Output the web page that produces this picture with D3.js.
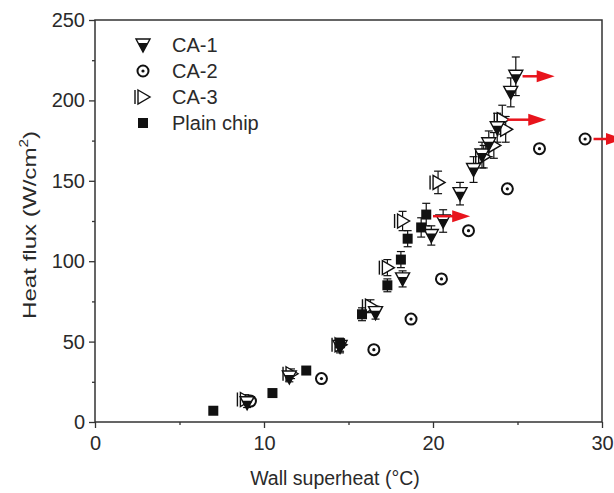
<!doctype html>
<html>
<head>
<meta charset="utf-8"/>
<title>Heat flux vs wall superheat</title>
<style>
body{margin:0;background:#fff;}
text{font-family:"Liberation Sans",Arial,sans-serif;fill:#2a2a2a;}
</style>
<script src="https://d3js.org/d3.v7.min.js"></script>
</head>
<body>
<script>
// data
var seriesNames = ["CA-1", "CA-2", "CA-3", "Plain chip"];

var ca1X = [9.0, 11.5, 14.5, 16.6, 18.2, 19.9, 20.6, 21.6, 22.4, 22.9, 23.3, 23.8, 24.6, 24.9];
var ca1Y = [12, 28, 47, 68, 89, 116, 125, 142, 157, 166, 173, 183, 205, 215];
var ca1E = [3, 3, 4, 4, 5, 6, 7, 7, 8, 8, 8, 9, 9, 12];

var ca2X = [9.2, 13.4, 16.5, 18.7, 20.5, 22.1, 24.4, 26.3, 29.0];
var ca2Y = [13, 27, 45, 64, 89, 119, 145, 170, 176];

var ca3X = [8.9, 11.6, 14.5, 16.3, 17.3, 18.2, 20.3, 23.0, 23.6, 24.3, 24.1];
var ca3Y = [14, 30, 48, 72, 96, 125, 149, 165, 172, 182, 188];
var ca3E = [3, 3, 4, 4, 5, 6, 7, 7, 8, 8, 9];

var plainX = [7.0, 10.5, 12.5, 14.5, 15.8, 17.3, 18.1, 18.5, 19.3, 19.6];
var plainY = [7, 18, 32, 49, 67, 85, 101, 114, 121, 129];
var plainE = [1, 2, 2, 3, 4, 4, 5, 5, 6, 7];

// CHF arrows: start x, end x, y
var arrowX0 = [25.3, 24.4, 20.0, 29.5];
var arrowX1 = [27.2, 26.7, 22.2, 31.3];
var arrowY = [215, 188, 128, 176];

var xTicks = [0, 10, 20, 30];
var yTicks = [0, 50, 100, 150, 200, 250];

var W = 614, H = 493;
var svg = d3.select("body").append("svg").attr("width", W).attr("height", H);

var x = d3.scaleLinear().domain([0, 30]).range([95, 602]);
var y = d3.scaleLinear().domain([0, 250]).range([422, 20]);

var axisColor = "#333";

// axes
var xAxis = d3.axisBottom(x).tickValues(xTicks).tickSize(6).tickPadding(8).tickFormat(d3.format("d"));
var xMinor = d3.axisBottom(x).tickValues([5, 15, 25]).tickSize(3).tickFormat("");
var yAxis = d3.axisLeft(y).tickValues(yTicks).tickSize(6).tickPadding(4).tickFormat(d3.format("d"));
var yMinor = d3.axisLeft(y).tickValues([25, 75, 125, 175, 225]).tickSize(3).tickFormat("");

function styleAxis(g){
  g.select(".domain").remove();
  g.selectAll("line").attr("stroke", axisColor).attr("stroke-width", 1.3);
  g.selectAll("text").attr("font-size", 20).attr("fill", "#2a2a2a");
}

svg.append("g").attr("transform", "translate(0,422)").call(xAxis).call(styleAxis);
svg.append("g").attr("transform", "translate(0,422)").call(xMinor).call(styleAxis);
svg.append("g").attr("transform", "translate(95,0)").call(yAxis).call(styleAxis);
svg.append("g").attr("transform", "translate(95,0)").call(yMinor).call(styleAxis);

svg.append("rect")
  .attr("x", x(0)).attr("y", y(250))
  .attr("width", x(30) - x(0)).attr("height", y(0) - y(250))
  .attr("fill", "none").attr("stroke", axisColor).attr("stroke-width", 1.5);

// axis titles
svg.append("text").attr("x", 335).attr("y", 485)
  .attr("text-anchor", "middle").attr("font-size", 19.5).text("Wall superheat (°C)");

var yt = svg.append("text").attr("transform", "translate(36,225) rotate(-90)")
  .attr("text-anchor", "middle").attr("font-size", 19)
  .attr("textLength", 188).attr("lengthAdjust", "spacingAndGlyphs");
yt.append("tspan").text("Heat flux (W/cm");
yt.append("tspan").attr("font-size", 12).attr("dy", -8).text("2");
yt.append("tspan").attr("dy", 8).text(")");

var plot = svg.append("g");

// error bars
function errorBars(xs, ys, es){
  var g = plot.append("g").attr("stroke", "#111").attr("stroke-width", 1.2);
  xs.forEach(function(d, i){
    var px = x(d), top = y(ys[i] + es[i]), bot = y(ys[i] - es[i]);
    g.append("line").attr("x1", px).attr("x2", px).attr("y1", top).attr("y2", bot);
    g.append("line").attr("x1", px - 4).attr("x2", px + 4).attr("y1", top).attr("y2", top);
    g.append("line").attr("x1", px - 4).attr("x2", px + 4).attr("y1", bot).attr("y2", bot);
  });
}
errorBars(plainX, plainY, plainE);
errorBars(ca3X, ca3Y, ca3E);
errorBars(ca1X, ca1Y, ca1E);

// marker shapes
function drawCA1(g, px, py){
  g.append("path").attr("d", "M" + (px - 7) + "," + (py - 6) + "L" + (px + 7) + "," + (py - 6) + "L" + px + "," + (py + 7) + "Z")
    .attr("fill", "#fff").attr("stroke", "#111").attr("stroke-width", 1.4);
  g.append("path").attr("d", "M" + (px - 5) + "," + (py - 2) + "L" + (px + 5) + "," + (py - 2) + "L" + px + "," + (py + 7) + "Z")
    .attr("fill", "#111");
}
function drawCA2(g, px, py){
  g.append("circle").attr("cx", px).attr("cy", py).attr("r", 5.5)
    .attr("fill", "#fff").attr("stroke", "#111").attr("stroke-width", 2);
  g.append("circle").attr("cx", px).attr("cy", py).attr("r", 1.6).attr("fill", "#111");
}
function drawCA3(g, px, py){
  g.append("path").attr("d", "M" + (px - 5) + "," + (py - 7) + "L" + (px + 7) + "," + py + "L" + (px - 5) + "," + (py + 7) + "Z")
    .attr("fill", "#fff").attr("stroke", "#111").attr("stroke-width", 1.4);
  g.append("line").attr("x1", px - 8).attr("x2", px - 8).attr("y1", py - 7).attr("y2", py + 7)
    .attr("stroke", "#111").attr("stroke-width", 1.4);
}
function drawPlain(g, px, py){
  g.append("rect").attr("x", px - 5).attr("y", py - 5).attr("width", 10).attr("height", 10).attr("fill", "#111");
}

var markers = plot.append("g");
ca2X.forEach(function(d, i){ drawCA2(markers, x(d), y(ca2Y[i])); });
ca3X.forEach(function(d, i){ drawCA3(markers, x(d), y(ca3Y[i])); });
ca1X.forEach(function(d, i){ drawCA1(markers, x(d), y(ca1Y[i])); });
plainX.forEach(function(d, i){ drawPlain(markers, x(d), y(plainY[i])); });

// red arrows
var red = "#e8141c";
arrowY.forEach(function(d, i){
  var x0 = x(arrowX0[i]), x1 = x(arrowX1[i]), py = y(d);
  svg.append("line").attr("x1", x0).attr("x2", x1 - 14).attr("y1", py).attr("y2", py)
    .attr("stroke", red).attr("stroke-width", 2.5);
  svg.append("path").attr("d", "M" + (x1 - 18) + "," + (py - 6) + "L" + x1 + "," + py + "L" + (x1 - 18) + "," + (py + 6) + "Z")
    .attr("fill", red);
});

// legend
var legendY = [45, 71, 97, 123];
var drawFns = [drawCA1, drawCA2, drawCA3, drawPlain];
var lg = svg.append("g");
seriesNames.forEach(function(name, i){
  drawFns[i](lg, 143, legendY[i]);
  lg.append("text").attr("x", 172).attr("y", legendY[i] + 7).attr("font-size", 20).text(name);
});
</script>
</body>
</html>
